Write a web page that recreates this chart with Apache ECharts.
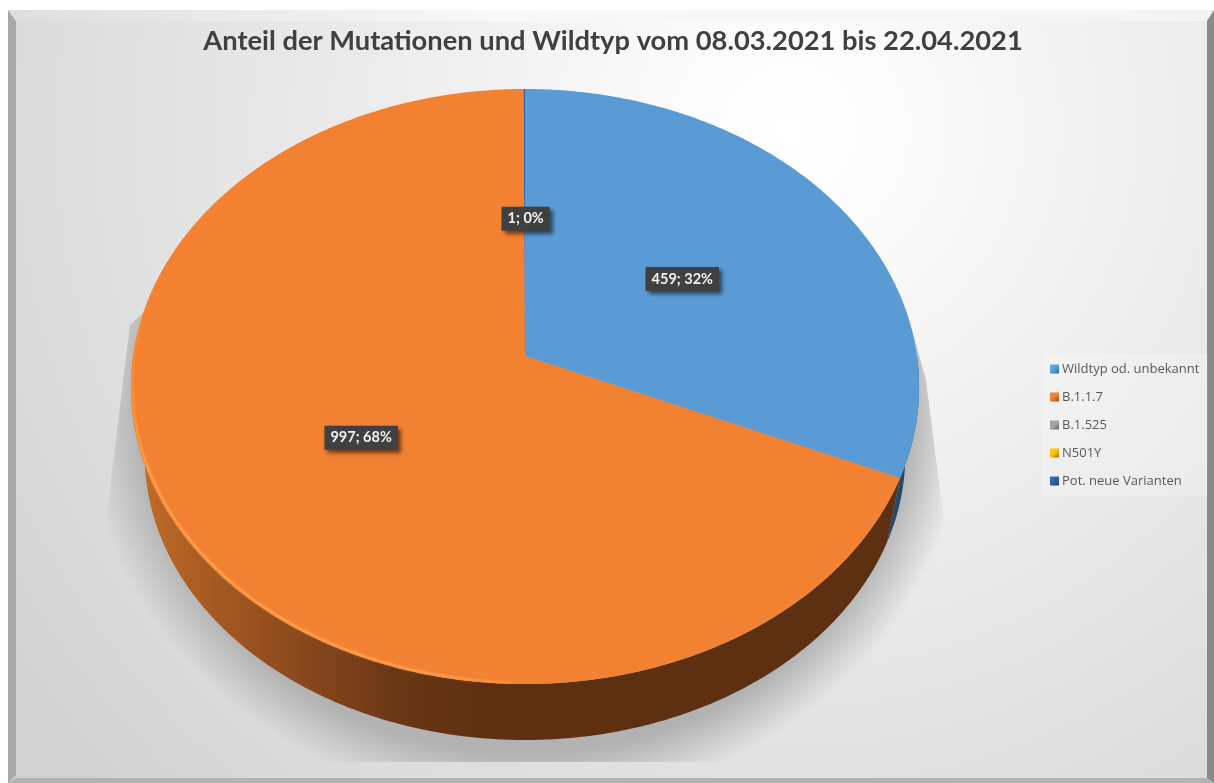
<!DOCTYPE html>
<html>
<head>
<meta charset="utf-8">
<title>Anteil der Mutationen und Wildtyp</title>
<style>
  html, body { margin: 0; padding: 0; background: #fff; }
  #chart { width: 1214px; height: 783px; }
</style>
</head>
<body>
<div id="chart"></div>
<script src="https://cdn.jsdelivr.net/npm/echarts@6/dist/echarts.min.js"></script>
<script>
var chartTitle = "Anteil der Mutationen und Wildtyp vom 08.03.2021 bis 22.04.2021";
var categories = ["Wildtyp od. unbekannt", "B.1.1.7", "B.1.525", "N501Y", "Pot. neue Varianten"];
var values = [459, 997, 0, 0, 1];

var topColors = ["#5b9bd5", "#f28132", "#a5a5a5", "#ffc000", "#2f5fa8"];
var legendLight = ["#6fb0ea", "#ef8a3f", "#a5a5a5", "#ffc91f", "#3f70c0"];
var legendDark = ["#2c6a9c", "#95491a", "#5e5e5e", "#96700a", "#1c3f78"];
var wallColors = ["#24496b", "#5e3012", "#555555", "#7f6000", "#1f3f70"];

var total = values.reduce(function (a, b) { return a + b; }, 0);

// slice angles, clockwise from 12 o'clock
function sliceStart(idx) {
  var sum = 0;
  for (var i = 0; i < idx; i++) sum += values[i];
  return (sum / total) * 360;
}

// the pie lies tilted: circle -> perspective, so the apex is not the ellipse centre
var apexX = 525, apexY = 356;
var persA = 257.9, persC = -0.1025, persR = 392;
function project(deg, rho) {
  var t = (deg * Math.PI) / 180;
  var u = Math.sin(t) * rho;
  var v = -Math.cos(t) * rho;
  var w = persC * v + 1;
  return [apexX + (persR * u) / w, (persA * v + apexY) / w];
}
// same rim point on the lower edge of the pie wall
function lower(p) {
  return [apexX + (p[0] - apexX) * 0.965, 455 + (p[1] - 386.5) * 0.958];
}

function arcPoints(from, to) {
  var pts = [];
  var steps = Math.max(2, Math.ceil((to - from) * 2));
  for (var i = 0; i <= steps; i++) {
    pts.push(project(from + ((to - from) * i) / steps, 1));
  }
  return pts;
}

function renderSlice(idx) {
  return function () {
    if (!values[idx]) return null;
    var start = sliceStart(idx);
    var end = start + (values[idx] / total) * 360;
    var children = [];

    // wall, only the front half of the rim
    var wallFrom = Math.max(start, 90);
    var wallTo = Math.min(end, 270);
    if (wallTo > wallFrom) {
      var rim = arcPoints(wallFrom, wallTo);
      var wallFill = wallColors[idx];
      if (idx === 1) {
        wallFill = new echarts.graphic.LinearGradient(131, 0, 480, 0, [
          { offset: 0, color: "#c56e2a" },
          { offset: 0.2, color: "#aa5c22" },
          { offset: 0.45, color: "#8e4b1d" },
          { offset: 0.75, color: "#6b3716" },
          { offset: 1, color: wallColors[1] }
        ], true);
      }
      children.push({
        type: "polygon",
        z2: 1,
        shape: { points: rim.concat(rim.map(lower).reverse()) },
        style: { fill: wallFill }
      });
    }

    // top face
    children.push({
      type: "polygon",
      z2: 2,
      shape: { points: [[apexX, apexY]].concat(arcPoints(start, end)) },
      style: { fill: topColors[idx] }
    });

    // light edge on the big slice, fades out at both ends
    if (idx === 1) {
      children.push({
        type: "polyline",
        z2: 3,
        shape: { points: arcPoints(182, 285).map(function (p) { return [p[0] + 1.5, p[1] - 1.5]; }) },
        style: {
          fill: null,
          lineWidth: 2.5,
          stroke: new echarts.graphic.LinearGradient(135, 300, 570, 690, [
            { offset: 0, color: "rgba(255,158,72,0)" },
            { offset: 0.2, color: "rgba(255,158,72,0.85)" },
            { offset: 0.8, color: "rgba(255,158,72,0.85)" },
            { offset: 1, color: "rgba(255,158,72,0)" }
          ], true),
          shadowBlur: 3,
          shadowColor: "rgba(255,158,72,0.5)"
        }
      });
    }

    // data label
    var mid = project((start + end) / 2, 0.49);
    children.push({
      type: "text",
      z2: 10,
      x: mid[0] + 1,
      y: mid[1],
      style: {
        text: values[idx] + "; " + Math.round((values[idx] / total) * 100) + "%",
        align: "center",
        verticalAlign: "middle",
        font: 'bold 14.5px Lato, "Noto Sans"',
        fill: "#f2f2f2",
        backgroundColor: "#404040",
        padding: [5, 6, 4, 6],
        shadowColor: "rgba(0,0,0,0.55)",
        shadowBlur: 4,
        shadowOffsetX: 3,
        shadowOffsetY: 3
      }
    });

    return { type: "group", children: children };
  };
}

var series = categories.map(function (name, i) {
  return {
    type: "custom",
    name: name,
    coordinateSystem: "none",
    silent: true,
    itemStyle: {
      color: new echarts.graphic.LinearGradient(0, 0, 1, 1, [
        { offset: 0, color: legendLight[i] },
        { offset: 0.5, color: topColors[i] },
        { offset: 1, color: legendDark[i] }
      ])
    },
    renderItem: renderSlice(i),
    data: [values[i]]
  };
});

// shadow under the pie, a big soft ellipse cut by the slanted sides
var shadowCy = 410, shadowRx = 440, shadowScale = 395 / 440;
function shadowPt(x, y) {
  return [x, shadowCy + (y - shadowCy) / shadowScale];
}

var chart = echarts.init(document.getElementById("chart"));
chart.setOption({
  animation: false,
  title: {
    text: chartTitle,
    left: 608,
    top: 23,
    textAlign: "center",
    textStyle: {
      fontFamily: 'Lato, "Noto Sans"',
      fontWeight: "bold",
      fontSize: 27.3,
      color: "#404040"
    }
  },
  legend: {
    orient: "vertical",
    left: 1043,
    top: 354,
    padding: [7, 8, 7, 7],
    itemGap: 12,
    itemWidth: 9,
    itemHeight: 9,
    icon: "rect",
    selectedMode: false,
    backgroundColor: "rgba(255,255,255,0.22)",
    textStyle: {
      fontFamily: '"Open Sans", "Noto Sans"',
      fontSize: 13,
      color: "#595959",
      padding: [0, 0, 0, -2],
      lineHeight: 16
    },
    data: categories
  },
  graphic: {
    elements: [
      {
        type: "rect",
        z: 0,
        silent: true,
        shape: { x: 8, y: 10, width: 1206, height: 773 },
        style: {
          fill: new echarts.graphic.RadialGradient(790, 130, 960, [
            { offset: 0, color: "#ffffff" },
            { offset: 0.12, color: "#fbfbfb" },
            { offset: 0.5, color: "#e9e9e9" },
            { offset: 1, color: "#d2d2d2" }
          ], true)
        }
      },
      {
        type: "polygon",
        z: 0,
        silent: true,
        originY: shadowCy,
        scaleY: shadowScale,
        shape: {
          points: [
            shadowPt(152, 305), shadowPt(130, 325), shadowPt(100, 570), shadowPt(100, 762),
            shadowPt(950, 762), shadowPt(950, 570), shadowPt(926, 380), shadowPt(912, 330)
          ]
        },
        style: {
          fill: new echarts.graphic.RadialGradient(525, shadowCy, shadowRx, [
            { offset: 0, color: "rgba(176,176,176,1)" },
            { offset: 0.87, color: "rgba(178,178,178,1)" },
            { offset: 1, color: "rgba(178,178,178,0)" }
          ], true)
        }
      },
      // bevelled frame
      {
        type: "polygon", z: 1, silent: true,
        shape: { points: [[8, 10], [16, 21], [16, 775], [8, 783]] },
        style: { fill: "#a9a9a9" }
      },
      {
        type: "polygon", z: 1, silent: true,
        shape: { points: [[8, 10], [1214, 10], [1207, 21], [16, 21]] },
        style: {
          fill: new echarts.graphic.LinearGradient(0, 0, 1, 0, [
            { offset: 0, color: "#dedede" },
            { offset: 0.4, color: "#f8f8f8" },
            { offset: 1, color: "#f4f4f4" }
          ])
        }
      },
      {
        type: "polygon", z: 1, silent: true,
        shape: { points: [[1207, 21], [1214, 10], [1214, 783], [1207, 778]] },
        style: { fill: "#8a8a8a" }
      },
      {
        type: "polygon", z: 1, silent: true,
        shape: { points: [[16, 778], [1207, 778], [1214, 783], [8, 783]] },
        style: { fill: "#b3b3b3" }
      }
    ]
  },
  series: series
});
</script>
</body>
</html>
